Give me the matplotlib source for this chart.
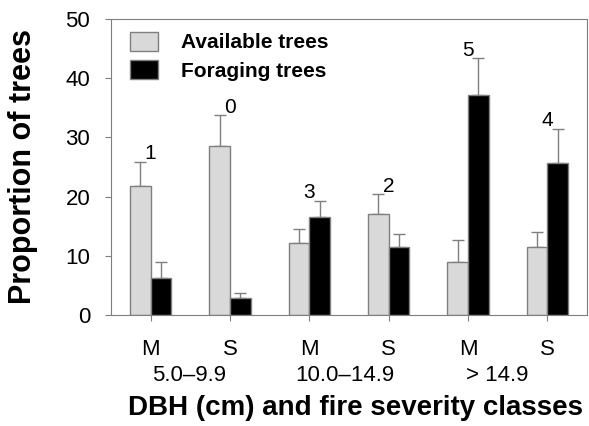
import numpy as np
import matplotlib.pyplot as plt

plt.rcParams['font.family'] = ['Liberation Sans', 'DejaVu Sans']

severity = ['M', 'S', 'M', 'S', 'M', 'S']
dbh_classes = ['5.0\u20139.9', '10.0\u201314.9', '> 14.9']
available = [21.8, 28.5, 12.1, 17.1, 8.9, 11.5]
available_err = [4.1, 5.3, 2.4, 3.3, 3.8, 2.6]
foraging = [6.2, 2.8, 16.5, 11.5, 37.2, 25.6]
foraging_err = [2.8, 1.0, 2.8, 2.2, 6.2, 5.9]
counts = ['1', '0', '3', '2', '5', '4']

W, H = 589, 426
fig = plt.figure(figsize=(W / 100, H / 100), dpi=100)
ax = fig.add_axes([111 / W, 1 - 315 / H, 476 / W, 296 / H])

x = np.arange(len(severity))
w = 0.26
edge = '#7f7f7f'
ax.bar(x - w / 2, available, w, color='#d9d9d9', edgecolor=edge, linewidth=1,
       label='Available trees', zorder=2)
ax.bar(x + w / 2, foraging, w, color='black', edgecolor=edge, linewidth=1,
       label='Foraging trees', zorder=2)
# only the upper half of the error bars is drawn
ax.errorbar(x - w / 2, available, yerr=[np.zeros(6), available_err], fmt='none',
            ecolor=edge, elinewidth=1, capsize=4, capthick=1, zorder=1)
ax.errorbar(x + w / 2, foraging, yerr=[np.zeros(6), foraging_err], fmt='none',
            ecolor=edge, elinewidth=1, capsize=4, capthick=1, zorder=1)

for i in range(len(x)):
    top = max(available[i] + available_err[i], foraging[i] + foraging_err[i])
    ax.text(x[i], top + 0.4, counts[i], ha='center', va='baseline', fontsize=15)

ax.set_xlim(-0.5, 5.5)
ax.set_ylim(0, 50)
ax.set_yticks(range(0, 51, 10))
ax.set_xticks(x)
ax.set_xticklabels(severity)
ax.tick_params(axis='both', labelsize=16, length=4, color=edge)
ax.tick_params(axis='y', pad=11)
ax.tick_params(axis='x', pad=13)
for s in ax.spines.values():
    s.set_color(edge)

group_x = [0.48, 2.45, 4.37]
for gx, lab in zip(group_x, dbh_classes):
    ax.text(gx, -0.205, lab, transform=ax.get_xaxis_transform(),
            ha='center', va='center', fontsize=16)

fig.text(23 / W, 1 - 166 / H, 'Proportion of trees', rotation=90,
         ha='center', va='center', fontsize=22, fontweight='bold')
fig.text(356 / W, 1 - 408 / H, 'DBH (cm) and fire severity classes',
         ha='center', va='center', fontsize=20, fontweight='bold')

ax.legend(loc='upper left', bbox_to_anchor=(19 / 476, 1 - 13 / 296),
          frameon=False, prop={'weight': 'bold', 'size': 15},
          handlelength=1.35, handleheight=1.0, handletextpad=1.1,
          borderaxespad=0, borderpad=0, labelspacing=0.38)

fig.savefig('out.png', dpi=100)
